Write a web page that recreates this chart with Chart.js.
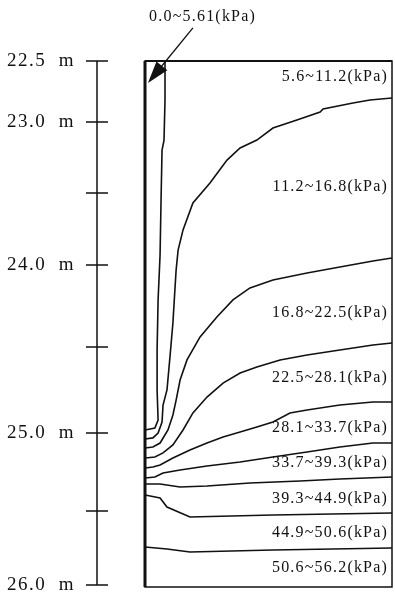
<!DOCTYPE html>
<html>
<head>
<meta charset="utf-8">
<script src="https://cdn.jsdelivr.net/npm/chart.js@4.4.1/dist/chart.umd.min.js"></script>
<style>
  html, body { margin: 0; padding: 0; background: #fff; }
  #wrap { width: 395px; height: 594px; }
</style>
</head>
<body>
<div id="wrap"><canvas id="myChart"></canvas></div>
<script>
// contour lines between pressure zones, points are [horizontal position (% of width), depth (m)]
let b5_6 = [[8.1,22.500],[8.1,22.759],[7.7,23.026],[6.9,23.092],[6.5,23.425],[6.1,23.791],[5.3,24.090],[4.9,24.423],[4.9,24.689],[5.3,24.889],[4.0,24.942],[0,24.955]];
let b11_2 = [[100,22.746],[91.1,22.759],[84.2,22.779],[72.1,22.819],[70.9,22.839],[61.5,22.893],[51.8,22.946],[45.3,23.026],[38.5,23.079],[33.2,23.159],[26.3,23.312],[19.4,23.445],[15.4,23.624],[13.4,23.758],[12.6,23.891],[12.1,24.024],[11.3,24.243],[10.1,24.470],[8.9,24.689],[7.3,24.789],[6.9,24.902],[5.3,24.975],[3.2,25.008],[0,25.015]];
let b16_8 = [[100,23.811],[92.3,23.831],[78.9,23.871],[65.6,23.911],[51.8,23.957],[42.5,24.010],[35.6,24.090],[29.1,24.203],[22.3,24.336],[17.0,24.489],[14.2,24.623],[12.6,24.756],[11.3,24.855],[9.3,24.955],[6.1,25.042],[3.2,25.068],[0,25.075]];
let b22_5 = [[100,24.376],[92.3,24.390],[78.9,24.423],[65.6,24.456],[54.7,24.489],[45.3,24.536],[38.5,24.576],[31.6,24.643],[25.1,24.736],[19.4,24.842],[15.4,24.955],[11.3,25.055],[7.3,25.108],[4.0,25.135],[0,25.142]];
let b28_1 = [[100,24.769],[92.3,24.769],[78.9,24.789],[65.6,24.822],[58.7,24.842],[51.8,24.902],[45.3,24.935],[38.5,24.969],[31.6,25.002],[25.1,25.042],[18.2,25.088],[11.3,25.142],[6.1,25.188],[3.2,25.201],[0,25.208]];
let b33_7 = [[100,25.042],[92.3,25.042],[78.9,25.068],[65.6,25.102],[51.8,25.135],[38.5,25.168],[25.1,25.195],[14.2,25.221],[7.3,25.241],[4.0,25.268],[0,25.275]];
let b39_3 = [[100,25.268],[78.9,25.281],[62.8,25.295],[42.5,25.308],[25.1,25.328],[14.2,25.335],[6.1,25.315],[0,25.315]];
let b44_9 = [[0,25.388],[6.1,25.408],[8.9,25.468],[18.2,25.534],[51.8,25.521],[100,25.508]];
let b50_6 = [[0,25.734],[8.9,25.747],[18.2,25.767],[51.8,25.754],[100,25.740]];

let zoneLabels = ['5.6~11.2(kPa)','11.2~16.8(kPa)','16.8~22.5(kPa)','22.5~28.1(kPa)','28.1~33.7(kPa)','33.7~39.3(kPa)','39.3~44.9(kPa)','44.9~50.6(kPa)','50.6~56.2(kPa)'];
let zoneDepths = [22.606, 23.338, 24.177, 24.609, 24.942, 25.175, 25.414, 25.641, 25.874];
let topLabel = '0.0~5.61(kPa)';

// the depth ruler as drawn is not evenly spaced
let rulerDepths = [22.5, 22.906, 23.378, 23.857, 24.403, 24.975, 25.494, 25.987];
let rulerLabels = ['22.5  m', '23.0  m', '', '24.0  m', '', '25.0  m', '', '26.0  m'];

let ctx = document.getElementById('myChart').getContext('2d');

let lines = [b5_6, b11_2, b16_8, b22_5, b28_1, b33_7, b39_3, b44_9, b50_6];

let datasets = lines.map(function(pts)
{
    return {
        data: pts.map(p => ({x: p[0], y: p[1]})),
        showLine: true,
        borderColor: '#111',
        borderWidth: 1.6,
        pointRadius: 0,
        tension: 0,
        fill: false
    };
});

let extras =
{
    id: 'extras',
    beforeDraw(chart)
    {
        chart.ctx.letterSpacing = '1.5px';
    },
    afterDraw(chart)
    {
        let c = chart.ctx, sx = chart.scales.x, sy = chart.scales.y, a = chart.chartArea;
        c.save();
        c.strokeStyle = '#111';
        c.fillStyle = '#111';

        // ruler
        let rx = 97;
        c.lineWidth = 1.5;
        c.beginPath();
        c.moveTo(rx, sy.getPixelForValue(rulerDepths[0]));
        c.lineTo(rx, sy.getPixelForValue(rulerDepths[rulerDepths.length - 1]));
        rulerDepths.forEach(function(d)
        {
            let py = sy.getPixelForValue(d);
            c.moveTo(rx - 11, py);
            c.lineTo(rx + 11, py);
        });
        c.stroke();

        // frame
        c.lineWidth = 1.5;
        c.strokeRect(a.left, a.top, a.right - a.left, a.bottom - a.top);
        c.lineWidth = 3;
        c.beginPath();
        c.moveTo(a.left, a.top);
        c.lineTo(a.left, a.bottom);
        c.stroke();
        c.lineWidth = 2.2;
        c.beginPath();
        c.moveTo(a.left, a.top);
        c.lineTo(a.right, a.top);
        c.stroke();

        // zone labels
        c.font = '16px "Liberation Serif"';
        c.letterSpacing = '1.2px';
        c.textAlign = 'right';
        c.textBaseline = 'middle';
        zoneLabels.forEach(function(t, i)
        {
            c.fillText(t, sx.getPixelForValue(98.4), sy.getPixelForValue(zoneDepths[i]));
        });

        // label of the thin strip with its arrow
        c.textAlign = 'center';
        c.fillText(topLabel, sx.getPixelForValue(23.3), sy.getPixelForValue(22.207));
        let x0 = sx.getPixelForValue(19.4), y0 = sy.getPixelForValue(22.280);
        let x1 = sx.getPixelForValue(1.2), y1 = sy.getPixelForValue(22.646);
        let ang = Math.atan2(y1 - y0, x1 - x0);
        c.lineWidth = 1.3;
        c.beginPath();
        c.moveTo(x0, y0);
        c.lineTo(x1 - 18 * Math.cos(ang), y1 - 18 * Math.sin(ang));
        c.stroke();
        c.beginPath();
        c.moveTo(x1, y1);
        c.lineTo(x1 - 22 * Math.cos(ang) + 7 * Math.sin(ang), y1 - 22 * Math.sin(ang) - 7 * Math.cos(ang));
        c.lineTo(x1 - 22 * Math.cos(ang) - 7 * Math.sin(ang), y1 - 22 * Math.sin(ang) + 7 * Math.cos(ang));
        c.closePath();
        c.fill();
        c.restore();
    }
};

let myChart = new Chart(ctx,
{
    type: 'scatter',
    data: { datasets: datasets },
    plugins: [extras],
    options:
    {
        responsive: true,
        maintainAspectRatio: false,
        animation: false,
        layout: { padding: { top: 61, right: 3, bottom: 7, left: 0 } },
        plugins:
        {
            legend: { display: false },
            tooltip: { enabled: false }
        },
        scales:
        {
            x:
            {
                display: false,
                min: 0,
                max: 100
            },
            y:
            {
                reverse: true,
                min: 22.5,
                max: 26.0,
                afterBuildTicks: function(s)
                {
                    s.ticks = rulerDepths.map(v => ({ value: v }));
                },
                afterFit: function(s)
                {
                    s.width = 145;
                    s.paddingTop = 0;
                    s.paddingBottom = 0;
                },
                border: { display: false },
                grid: { drawOnChartArea: false, drawTicks: false },
                ticks:
                {
                    autoSkip: false,
                    padding: 70,
                    color: '#111',
                    font: { family: 'Liberation Serif', size: 19 },
                    callback: function(v, i) { return rulerLabels[i]; }
                }
            }
        }
    }
});
</script>
</body>
</html>
